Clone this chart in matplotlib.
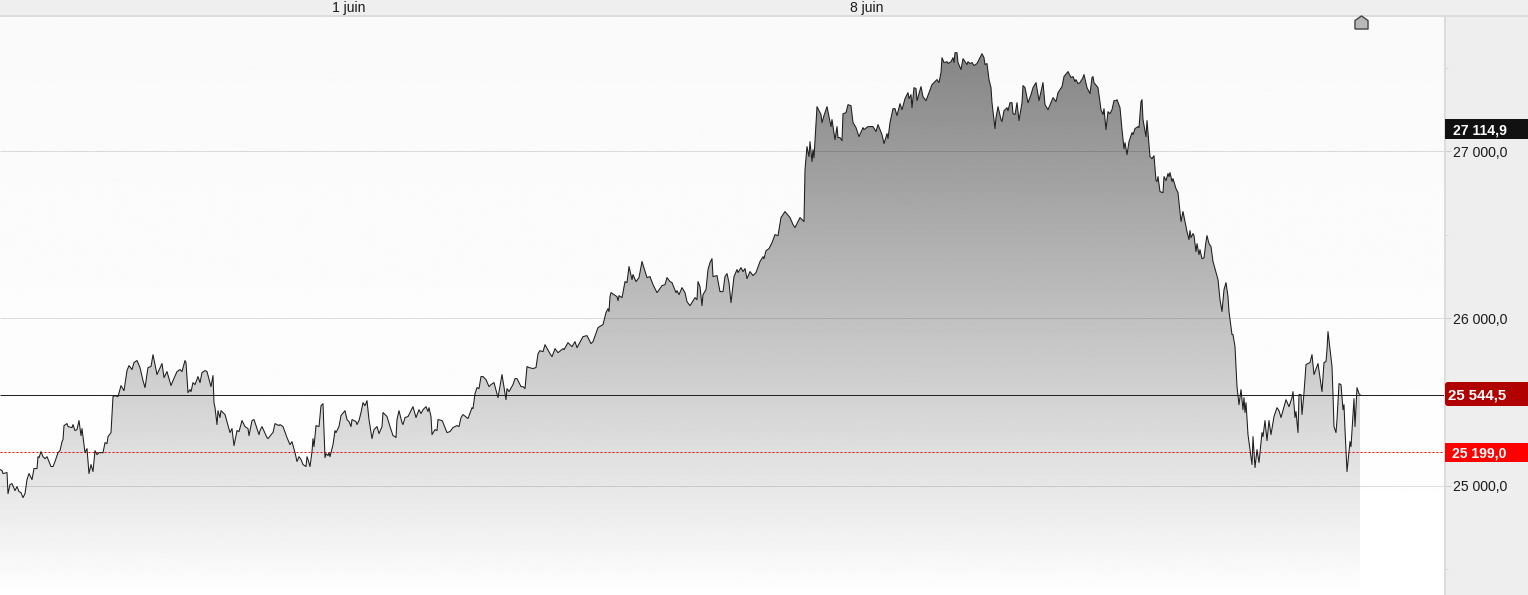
import numpy as np
import matplotlib
matplotlib.use("Agg")
import matplotlib.pyplot as plt
from matplotlib.path import Path
from matplotlib.patches import FancyBboxPatch, Rectangle
from matplotlib.transforms import IdentityTransform

plt.rcParams['font.family'] = ['Liberation Sans', 'DejaVu Sans']

bars = [
 0,2,3,7,8,10,12,15,17,19,
 21,23,25,27,29,32,34,37,38,39,
 41,43,45,47,51,53,55,58,60,62,
 63,64,67,68,72,73,75,77,79,81,
 82,85,87,89,91,93,95,97,99,103,
 105,107,108,111,113,115,118,121,124,127,
 129,132,134,137,140,143,145,148,151,153,
 157,162,164,165,167,171,173,177,180,182,
 185,186,188,190,191,193,195,198,200,202,
 205,207,211,213,214,215,217,218,220,221,
 225,230,232,234,237,239,242,245,248,249,
 252,254,259,260,262,267,268,272,273,275,
 279,280,283,287,290,292,295,297,299,301,
 303,306,307,308,310,312,313,314,316,319,
 321,323,325,326,328,329,330,333,335,336,
 339,341,345,347,349,351,352,356,357,359,
 361,363,365,367,369,372,374,377,379,382,
 383,387,390,393,395,396,397,399,402,403,
 405,408,413,416,419,421,423,426,428,429,
 431,432,435,437,438,442,443,447,450,453,
 457,459,461,463,468,472,473,475,477,479,
 481,483,486,489,491,494,498,502,506,507,
 509,513,515,517,521,523,525,527,529,533,
 536,538,540,543,545,550,552,555,558,563,
 564,568,572,575,577,583,587,591,593,598,
 603,606,608,609,610,611,617,618,619,622,
 625,627,629,632,633,636,639,642,647,650,
 653,657,662,665,667,670,672,676,677,679,
 682,685,687,690,695,697,698,700,702,703,
 706,708,710,712,713,717,720,723,725,727,
 729,731,734,737,738,741,743,745,747,750,
 753,756,760,763,764,766,769,772,775,778,
 781,785,790,793,795,800,804,805,807,809,
 810,812,813,814,817,821,822,824,827,831,
 832,835,837,838,840,842,843,846,848,851,
 853,856,859,863,864,868,873,876,878,882,
 884,887,888,890,893,895,897,900,902,905,
 908,909,911,912,914,916,917,921,923,926,
 929,932,937,939,941,942,944,947,948,951,
 953,954,955,957,958,961,963,967,968,970,
 972,974,977,982,984,985,987,989,991,992,
 995,996,998,1001,1002,1004,1007,1008,1010,1012,
 1013,1015,1017,1019,1022,1023,1025,1028,1031,1033,
 1036,1039,1043,1045,1048,1053,1056,1058,1062,1064,
 1068,1071,1073,1075,1076,1078,1080,1083,1084,1087,
 1090,1092,1093,1094,1098,1101,1103,1104,1106,1108,
 1110,1112,1114,1116,1117,1120,1122,1124,1125,1127,
 1129,1132,1133,1135,1138,1139,1141,1142,1143,1146,
 1147,1148,1150,1152,1154,1156,1157,1158,1160,1163,
 1164,1166,1168,1169,1170,1172,1173,1176,1178,1181,
 1183,1187,1189,1190,1191,1193,1194,1196,1197,1199,
 1200,1202,1204,1206,1207,1209,1211,1213,1218,1220,
 1222,1224,1226,1228,1229,1232,1233,1235,1237,1239,
 1241,1243,1244,1245,1246,1248,1252,1253,1255,1257,
 1259,1262,1263,1265,1267,1269,1271,1274,1277,1279,
 1281,1286,1289,1292,1293,1295,1296,1298,1299,1301,
 1302,1304,1306,1310,1312,1314,1318,1322,1324,1326,
 1327,1328,1332,1333,1334,1336,1337,1339,1341,1343,
 1344,1345,1347,1350,1351,1354,1355,1357,1359,1360,
]
closes = [
 25096,25090,25072,25078,24952,25006,25012,24970,24994,24964,
 24958,24928,24952,25036,25072,25036,25102,25102,25173,25167,
 25203,25173,25161,25173,25114,25114,25144,25197,25209,25263,
 25275,25359,25371,25353,25347,25365,25329,25335,25389,25299,
 25341,25197,25221,25072,25126,25084,25209,25185,25197,25197,
 25257,25251,25293,25317,25532,25538,25532,25598,25568,25688,
 25718,25694,25736,25748,25706,25628,25586,25706,25712,25783,
 25664,25730,25646,25658,25682,25598,25628,25682,25694,25682,
 25748,25736,25556,25574,25562,25616,25604,25652,25616,25676,
 25688,25682,25592,25658,25496,25466,25365,25448,25407,25448,
 25425,25317,25341,25239,25329,25323,25389,25353,25341,25299,
 25389,25395,25305,25329,25353,25287,25281,25311,25317,25371,
 25359,25365,25353,25287,25245,25263,25197,25144,25173,25156,
 25126,25114,25173,25156,25114,25203,25281,25233,25359,25353,
 25478,25490,25167,25191,25179,25197,25173,25245,25329,25317,
 25353,25419,25448,25395,25383,25353,25395,25383,25365,25389,
 25437,25496,25478,25508,25395,25281,25335,25353,25311,25353,
 25437,25413,25353,25299,25293,25287,25395,25448,25377,25365,
 25407,25413,25472,25407,25454,25431,25454,25472,25443,25466,
 25413,25305,25335,25329,25395,25389,25377,25317,25323,25347,
 25359,25353,25407,25425,25401,25466,25460,25550,25586,25580,
 25652,25652,25634,25592,25604,25616,25526,25664,25514,25580,
 25562,25604,25640,25640,25592,25592,25580,25712,25706,25700,
 25706,25789,25807,25801,25843,25789,25771,25819,25795,25819,
 25813,25855,25831,25861,25825,25891,25897,25849,25861,25945,
 25963,26035,26058,26041,26130,26154,26130,26106,26136,26124,
 26220,26214,26310,26232,26262,26220,26244,26340,26244,26250,
 26202,26154,26196,26202,26244,26220,26214,26154,26166,26142,
 26184,26154,26100,26076,26124,26112,26220,26190,26076,26142,
 26172,26292,26334,26357,26250,26256,26160,26160,26250,26268,
 26214,26094,26250,26292,26274,26304,26280,26298,26238,26280,
 26256,26274,26340,26369,26357,26405,26417,26453,26501,26495,
 26603,26639,26603,26561,26543,26603,26579,26890,27027,26967,
 27057,26938,27009,26961,27266,27219,27171,27213,27266,27147,
 27189,27069,27147,27081,27081,27063,27224,27230,27278,27272,
 27171,27141,27087,27141,27129,27147,27147,27117,27159,27099,
 27045,27105,27075,27171,27254,27254,27213,27284,27248,27314,
 27350,27314,27338,27260,27380,27374,27302,27386,27326,27302,
 27350,27398,27428,27410,27470,27559,27530,27535,27524,27535,
 27559,27530,27589,27589,27530,27488,27553,27518,27535,27524,
 27530,27512,27524,27583,27559,27518,27524,27428,27380,27290,
 27135,27201,27266,27189,27177,27242,27260,27242,27290,27290,
 27224,27219,27290,27183,27290,27392,27380,27290,27338,27380,
 27410,27302,27410,27278,27248,27320,27296,27350,27386,27446,
 27476,27440,27446,27416,27428,27404,27410,27440,27458,27380,
 27344,27440,27446,27410,27380,27248,27219,27254,27129,27236,
 27224,27248,27302,27302,27308,27260,27129,27015,27051,26979,
 27057,27111,27099,27135,27147,27141,27296,27308,27189,27087,
 27183,27111,26967,26955,26973,26824,26818,26848,26758,26752,
 26848,26824,26866,26848,26872,26818,26836,26776,26752,26579,
 26639,26519,26471,26525,26483,26507,26495,26399,26447,26381,
 26411,26357,26363,26459,26495,26447,26429,26340,26232,26112,
 26041,26172,26214,26130,26041,25903,25903,25831,25592,25484,
 25574,25454,25526,25437,25496,25305,25126,25293,25108,25215,
 25138,25317,25293,25389,25269,25389,25305,25413,25466,25448,
 25407,25514,25472,25526,25562,25407,25443,25317,25544,25544,
 25425,25556,25724,25736,25783,25664,25730,25562,25736,25742,
 25813,25921,25712,25544,25353,25317,25395,25610,25604,25454,
 25484,25335,25084,25263,25233,25520,25353,25586,25550,25544.5,
]

gridlevels = [25000, 26000, 27000]
minor_levels = [24500, 25500, 26500, 27500]
grid_labels = ['25 000,0', '26 000,0', '27 000,0']
date_bars = [349, 867]
date_labels = ['1 juin', '8 juin']
last_price = 25544.5
last_label = '25 544,5'
ref_price = 25199.0
ref_label = '25 199,0'
high_label = '27 114,9'
event_bars = [1361]

Y_MIN, Y_MAX = 24345.8, 27808.3
X_MAX = 1528
AXIS_X = 1445

fig = plt.figure(figsize=(15.28, 5.95), dpi=100, facecolor='#efefef')
ax = fig.add_axes([0, 0, 1, 1 - 16 / 595])
ax.set_xlim(0, X_MAX)
ax.set_ylim(Y_MIN, Y_MAX)
ax.set_axis_off()

# plot background (very subtle vertical gradient)
bg = np.linspace(0.978, 1.0, 256).reshape(-1, 1)
ax.imshow(bg, cmap='gray', vmin=0, vmax=1, aspect='auto', origin='upper',
          extent=[0, AXIS_X, Y_MIN, Y_MAX], zorder=0, interpolation='bilinear')

# price-axis strip
ax.add_patch(Rectangle((AXIS_X, Y_MIN), X_MAX - AXIS_X, Y_MAX - Y_MIN,
                       facecolor='#eeeeee', edgecolor='none', zorder=1))
ax.plot([AXIS_X, AXIS_X], [Y_MIN, Y_MAX], color='#dcdcdc', lw=1.4, zorder=6)

# area gradient clipped to the price polygon
x = np.asarray(bars, dtype=float)
y = np.asarray(closes, dtype=float)
grad = np.linspace(0.52, 1.0, 512).reshape(-1, 1)
g_top = max(closes) + 10
img = ax.imshow(grad, cmap='gray', vmin=0, vmax=1, aspect='auto', origin='upper',
                extent=[0, 1361, Y_MIN, g_top], zorder=2, interpolation='bilinear')
verts = np.vstack([[x[0], Y_MIN], np.column_stack([x, y]), [x[-1], Y_MIN]])
clip = Path(verts)
img.set_clip_path(clip, transform=ax.transData)
ax.set_xlim(0, X_MAX)
ax.set_ylim(Y_MIN, Y_MAX)

# gridlines
ax.hlines(gridlevels, 0, 1451, colors='black', alpha=0.13, lw=0.72, zorder=3)
ax.hlines(minor_levels, AXIS_X, 1448, colors='#d8d8d8', lw=0.72, zorder=3)

# reference lines
ax.hlines(ref_price, 0, AXIS_X, colors='#ee0000', lw=0.72, linestyles=(0, (2, 2)), zorder=4)
ax.hlines(last_price, 0, AXIS_X, colors='#222222', lw=0.72, zorder=4)

# price line
ax.plot(x, y, color='#1c1c1c', lw=0.75, zorder=5, solid_joinstyle='round')

# event marker (house glyph)
house = Path([(-1, -1), (-1, 0.3), (0, 1), (1, 0.3), (1, -1), (-1, -1)])
for b in event_bars:
    ax.plot([b], [0.9896], marker=house, ms=9.4, mfc='#b8b8b8', mec='#444444', mew=1,
            transform=ax.get_xaxis_transform(), clip_on=False, zorder=7, ls='none')

# axis labels
for lev, lab in zip(gridlevels, grid_labels):
    ax.text(1453, lev, lab, fontsize=10.08, color='#1a1a1a', va='center_baseline', ha='left', zorder=8)

# price badges
trans = ax.get_xaxis_transform()
def frac(px):
    return 1 - (px - 16) / (595 - 16)

ax.add_patch(Rectangle((AXIS_X, frac(139)), X_MAX - AXIS_X, frac(119) - frac(139),
                       transform=trans, facecolor='#111111', edgecolor='none', zorder=8))
ax.text(1453, frac(129.2), high_label, transform=trans, fontsize=10.08, fontweight='bold',
        color='white', va='center_baseline', ha='left', zorder=9)

ax.add_patch(Rectangle((AXIS_X, frac(462)), X_MAX - AXIS_X, frac(443) - frac(462),
                       transform=trans, facecolor='#ff0000', edgecolor='none', zorder=8))
ax.text(1452, frac(452), ref_label, transform=trans, fontsize=10.08, fontweight='bold',
        color='white', va='center_baseline', ha='left', zorder=9)

ax.add_patch(FancyBboxPatch((AXIS_X, 595 - 406), 100, 24,
                            boxstyle='round,pad=0,rounding_size=3',
                            transform=IdentityTransform(), facecolor='#b00000',
                            edgecolor='none', zorder=8))
ax.text(1448, frac(394), last_label, transform=trans, fontsize=10.8, fontweight='bold',
        color='white', va='center_baseline', ha='left', zorder=9)

# date labels on the top strip
for b, lab in zip(date_bars, date_labels):
    ax.text(b, 1 + 9.5 / 579, lab, transform=trans, fontsize=10.08, color='#1a1a1a',
            ha='center', va='center_baseline', clip_on=False)

# separator beneath the top strip
ax.plot([0, X_MAX], [1.0, 1.0], transform=trans, color='#dcdcdc', lw=1.4, clip_on=False, zorder=6)

assert len(bars) == len(closes), (len(bars), len(closes))
fig.savefig('out.png', dpi=100, facecolor=fig.get_facecolor())
